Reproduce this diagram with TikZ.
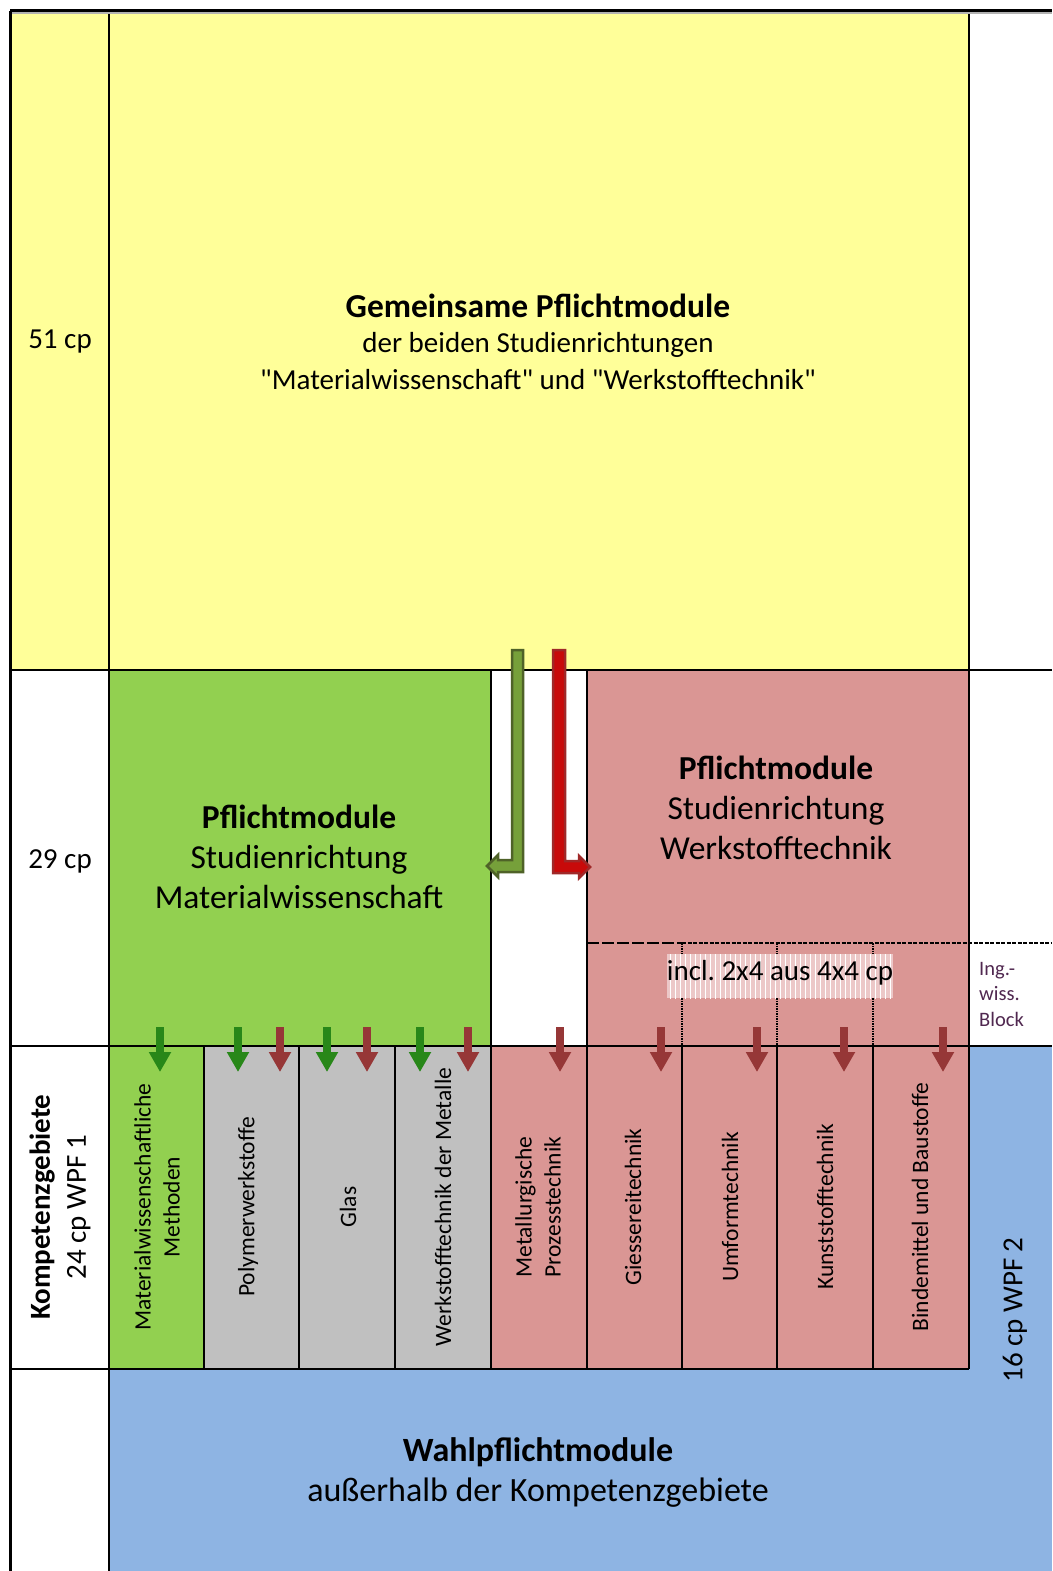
\documentclass[tikz,border=0pt]{standalone}
\usepackage{fontspec}
\setmainfont{Carlito}[Ligatures=TeXOff]
\usetikzlibrary{arrows.meta}
\definecolor{cyel}{RGB}{255,255,153}
\definecolor{cgrn}{RGB}{146,208,80}
\definecolor{cred}{RGB}{218,150,148}
\definecolor{cgry}{RGB}{192,192,192}
\definecolor{cblu}{RGB}{142,180,227}
\definecolor{agfill}{RGB}{118,160,58}
\definecolor{agline}{RGB}{79,98,40}
\definecolor{arfill}{RGB}{200,10,10}
\definecolor{arline}{RGB}{160,40,40}
\definecolor{sgrn}{RGB}{40,135,25}
\definecolor{sred}{RGB}{150,55,55}
\definecolor{ingcol}{RGB}{80,40,80}
\definecolor{incbg}{RGB}{236,200,200}
\tikzset{
  ln/.style={line width=1.6pt,black},
  outer/.style={line width=3pt,black},
  dv/.style={line width=1.3pt,black},
  big/.style={font=\fontsize{29}{36}\selectfont, align=center},
  mid/.style={font=\fontsize{33.5}{40}\selectfont, align=center},
  sm/.style={font=\fontsize{23.5}{29}\selectfont, align=center, rotate=90},
  smarrG/.style={line width=8pt, sgrn, -{Triangle[width=21pt,length=20pt]}},
  smarrR/.style={line width=8pt, sred, -{Triangle[width=21pt,length=20pt]}},
}
\begin{document}
\frenchspacing
\begin{tikzpicture}[x=1pt,y=-1pt]
\useasboundingbox[fill=white] (0,0) rectangle (1052,1571);
% fills
\fill[cyel] (10,11) rectangle (969,670);
\fill[cgrn] (109,670) rectangle (491,1046);
\fill[cred] (587,670) rectangle (969,1046);
\fill[cgrn] (109,1046) rectangle (204,1369);
\fill[cgry] (204,1046) rectangle (491,1369);
\fill[cred] (491,1046) rectangle (969,1369);
\fill[cblu] (969,1046) rectangle (1052,1571);
\fill[cblu] (109,1369) rectangle (1052,1571);
% grid lines
\draw[ln] (109,11) -- (109,1571);
\draw[ln] (969,11) -- (969,1369);
\draw[ln] (10,670) -- (1052,670);
\draw[ln] (10,1046) -- (1052,1046);
\draw[ln] (10,1369) -- (969,1369);
\draw[ln] (491,670) -- (491,1369);
\draw[ln] (587,670) -- (587,1369);
\foreach \x in {204,299,395,682,777,873}
  \draw[dv] (\x,1046) -- (\x,1369);
\foreach \x in {682,777,873}
  \draw[line width=1.5pt, densely dotted] (\x,943) -- (\x,1046);
\draw[line width=2.5pt, dash pattern=on 12pt off 3pt] (587,943) -- (682,943);
\draw[line width=2.5pt, dash pattern=on 4pt off 1.5pt] (682,943) -- (1052,943);
\draw[outer, gray!60] (10,13) -- (1052,13);
\draw[outer] (10,11) -- (1052,11);
\draw[outer] (10,11) -- (10,1571);
% big L arrows
\filldraw[fill=agfill, draw=agline, line width=2.5pt, line join=miter]
  (523,650) -- (523,872) -- (498,872) -- (498,877) -- (487,866) -- (498,855) -- (498,860) -- (512,860) -- (512,650) -- cycle;
\filldraw[fill=arfill, draw=arline, line width=2.5pt, line join=miter]
  (553,650) -- (553,873) -- (579,873) -- (579,878) -- (590,867) -- (579,856) -- (579,861) -- (565,861) -- (565,650) -- cycle;
% small arrows
\foreach \x in {160,238,327,420}
  \draw[smarrG] (\x,1027) -- (\x,1072);
\foreach \x in {280,367,468,560,661,757,844,943}
  \draw[smarrR] (\x,1027) -- (\x,1072);
% incl box
\begin{scope}
\fill[incbg] (667,954) rectangle (893,998);
\clip (667,954) rectangle (893,998);
\draw[white, line width=0.6pt, step=5] (665,950) grid (895,1000);
\end{scope}
% texts
\node[big] (t51) at (60,342) {51 cp};
\node[big] (t29) at (60,861) {29 cp};
\node[font=\fontsize{33.5}{36}\selectfont\bfseries] (gem) at (538,306) {Gemeinsame Pflichtmodule};
\node[big] (gem2) at (538,345) {der beiden Studienrichtungen};
\node[big] (gem3) at (538,380) {"Materialwissenschaft" und "Werkstofftechnik"};
\node[mid] (pmw) at (299,857) {\textbf{Pflichtmodule}\\Studienrichtung\\Materialwissenschaft};
\node[mid] (pwt) at (776,808) {\textbf{Pflichtmodule}\\Studienrichtung\\Werkstofftechnik};
\node[big] (incl) at (780,973) {incl. 2x4 aus 4x4 cp};
\node[font=\fontsize{20.5}{25.5}\selectfont, align=left, anchor=west, text=ingcol, inner sep=0pt] (ing) at (979,994) {Ing.-\\wiss.\\Block};
\node[big, rotate=90] (komp) at (60,1207) {\textbf{Kompetenzgebiete}\\24 cp WPF 1};
\node[big, rotate=90] (wpf2) at (1015,1310) {16 cp WPF 2};
\node[sm] (c1) at (157,1207) {Materialwissenschaftliche\\Methoden};
\node[sm] (c2) at (248,1207) {Polymerwerkstoffe};
\node[sm] (c3) at (348,1207) {Glas};
\node[sm] (c4) at (443,1207) {Werkstofftechnik der Metalle};
\node[sm] (c5) at (538,1207) {Metallurgische\\Prozesstechnik};
\node[sm] (c6) at (633,1207) {Giessereitechnik};
\node[sm] (c7) at (730,1207) {Umformtechnik};
\node[sm] (c8) at (825,1207) {Kunststofftechnik};
\node[sm] (c9) at (920,1207) {Bindemittel und Baustoffe};
\node[font=\fontsize{34}{40}\selectfont, align=center] (wahl) at (538,1472) {\textbf{Wahlpflichtmodule}\\außerhalb der Kompetenzgebiete};
\end{tikzpicture}
\end{document}
